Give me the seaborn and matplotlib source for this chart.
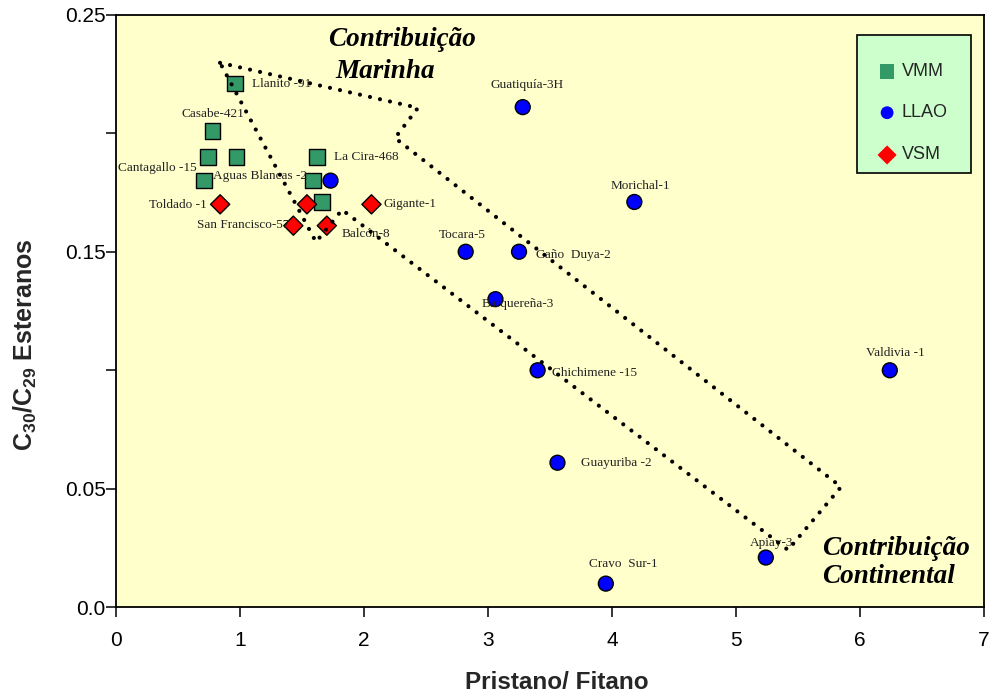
import matplotlib
matplotlib.use("Agg")
import matplotlib.pyplot as plt
from matplotlib.patches import Rectangle
import numpy as np
import pandas as pd
import seaborn as sns

# ---------------------------------------------------------------
# Pristano/Fitano (x) versus C30/C29 esteranos (y), by basin group
# ---------------------------------------------------------------
vmm_wells = ["Llanito -91", "Casabe-421", "", "", "Cantagallo -15",
             "La Cira-468", "Aguas Blancas -2", ""]
vmm_pf = [0.96, 0.78, 0.74, 0.97, 0.71, 1.62, 1.59, 1.66]
vmm_c30 = [0.221, 0.201, 0.190, 0.190, 0.180, 0.190, 0.180, 0.171]

llao_wells = ["Guatiquía-3H", "Morichal-1", "Tocara-5", "Caño  Duya-2",
              "Barquereña-3", "Chichimene -15", "Valdivia -1",
              "Guayuriba -2", "Apiay-3", "Cravo  Sur-1", ""]
llao_pf = [3.28, 4.18, 2.82, 3.25, 3.06, 3.40, 6.24, 3.56, 5.24, 3.95, 1.73]
llao_c30 = [0.211, 0.171, 0.150, 0.150, 0.130, 0.100, 0.100, 0.061,
            0.021, 0.010, 0.180]

vsm_wells = ["Toldado -1", "", "Gigante-1", "San Francisco-57", "Balcón-8"]
vsm_pf = [0.84, 1.54, 2.06, 1.43, 1.70]
vsm_c30 = [0.170, 0.170, 0.170, 0.161, 0.161]

groups = ["VMM", "LLAO", "VSM"]

# Outline of the marine-to-continental trend field
field_pf = [0.839, 2.435, 2.25, 5.847, 5.419, 1.823, 1.613]
field_c30 = [0.2297, 0.2107, 0.1980, 0.0508, 0.0242, 0.1677, 0.1541]

x_ticks = [0, 1, 2, 3, 4, 5, 6, 7]
y_ticks = [0.0, 0.05, 0.10, 0.15, 0.20, 0.25]
y_tick_labels = ["0.0", "0.05", "", "0.15", "", "0.25"]

# Label placement for each well name: (dx px, dy px, horizontal alignment)
vmm_label_pos = [(17, -1, "left"), (0, 17, "center"), None, None,
                 (-7, 13, "right"), (17, 0, "left"), (-6, 5, "right"), None]
llao_label_pos = [(4, 22, "center"), (6, 16, "center"), (-3, 17, "center"),
                  (17, -3, "left"), (-14, -5, "left"), (14, -3, "left"),
                  (6, 17, "center"), (24, 0, "left"), (6, 15, "center"),
                  (17, 20, "center"), None]
vsm_label_pos = [(-13, -1, "right"), None, (12, 0, "left"),
                 (-4, 1, "right"), (15, -8, "left")]

# ---------------------------------------------------------------
sns.set_style("ticks")
plt.rcParams["font.family"] = ["Liberation Sans", "DejaVu Sans"]
plt.rcParams["mathtext.fontset"] = "custom"
plt.rcParams["mathtext.rm"] = "Liberation Sans:bold"
plt.rcParams["mathtext.bf"] = "Liberation Sans:bold"

df = pd.DataFrame({
    "pf": vmm_pf + llao_pf + vsm_pf,
    "c30": vmm_c30 + llao_c30 + vsm_c30,
    "grupo": ["VMM"] * len(vmm_pf) + ["LLAO"] * len(llao_pf) + ["VSM"] * len(vsm_pf),
})

palette = {"VMM": "#339966", "LLAO": "#0000FF", "VSM": "#FF0000"}
markers = {"VMM": "s", "LLAO": "o", "VSM": "D"}
sizes = {"VMM": 125, "LLAO": 115, "VSM": 95}

fig = plt.figure(figsize=(9.93, 6.96), dpi=100)
ax = fig.add_axes([0.1168, 0.1274, 0.8742, 0.8515])
ax.set_facecolor("#FFFFCC")

sns.scatterplot(data=df, x="pf", y="c30", hue="grupo", style="grupo",
                size="grupo", palette=palette, markers=markers, sizes=sizes,
                edgecolor="black", linewidth=1.0, legend=False, ax=ax,
                zorder=3)

# Well names
serif = ["Liberation Serif", "DejaVu Serif"]
for names, xs, ys, pos in [(vmm_wells, vmm_pf, vmm_c30, vmm_label_pos),
                           (llao_wells, llao_pf, llao_c30, llao_label_pos),
                           (vsm_wells, vsm_pf, vsm_c30, vsm_label_pos)]:
    for name, x, y, p in zip(names, xs, ys, pos):
        if not name or p is None:
            continue
        dx, dy, ha = p
        ax.annotate(name, (x, y), xytext=(dx, dy), textcoords="offset pixels",
                    ha=ha, va="center", fontsize=9.5, family=serif,
                    color="#222222", zorder=4)

# Dotted trend field
ax.plot(field_pf + [field_pf[0]], field_c30 + [field_c30[0]], color="black",
        lw=3.0, linestyle=(0, (0.01, 2.45)), dash_capstyle="round", zorder=5)

# Field annotations
title_kw = dict(fontsize=19.5, family=serif, fontweight="bold",
                style="italic", color="black", va="center", ha="left",
                zorder=6)
ax.text(1.71, 0.2394, "Contribuição", **title_kw)
ax.text(1.766, 0.2259, "Marinha", **title_kw)
ax.text(5.694, 0.0250, "Contribuição", **title_kw)
ax.text(5.694, 0.0128, "Continental", **title_kw)

# Legend box
ax.add_patch(Rectangle((0.854, 0.7334), 0.1307, 0.2323, transform=ax.transAxes,
                       facecolor="#CCFFCC", edgecolor="black", lw=1.2,
                       zorder=6))
leg_rows = [0.9038, 0.8346, 0.7633]
leg_sizes = {"VMM": 110, "LLAO": 85, "VSM": 95}
for g, yy in zip(groups, leg_rows):
    ax.scatter([0.8883], [yy], transform=ax.transAxes, marker=markers[g],
               s=leg_sizes[g], color=palette[g], edgecolor="none", zorder=7,
               clip_on=False)
    ax.text(0.9052, yy, g, transform=ax.transAxes, fontsize=13,
            va="center", ha="left", zorder=7)

# Axes
ax.set_xlim(0, 7)
ax.set_ylim(0, 0.25)
ax.set_xticks(x_ticks)
ax.set_xticklabels([str(t) for t in x_ticks])
ax.set_yticks(y_ticks)
ax.set_yticklabels(y_tick_labels)
ax.tick_params(axis="both", direction="out", length=7, width=1.1,
               color="black", labelsize=15, labelcolor="black")
ax.tick_params(axis="x", pad=10)
ax.tick_params(axis="y", pad=0.5)
for sp in ax.spines.values():
    sp.set_visible(True)
    sp.set_color("black")
    sp.set_linewidth(1.3)

ax.set_xlabel("Pristano/ Fitano", fontsize=17.5, fontweight="bold")
ax.set_ylabel("C$_{30}$/C$_{29}$ Esteranos", fontsize=18, fontweight="bold")
ax.xaxis.set_label_coords(0.508, -0.108)
ax.yaxis.set_label_coords(-0.0887, 0.4426)

fig.savefig("out.png", dpi=100)
